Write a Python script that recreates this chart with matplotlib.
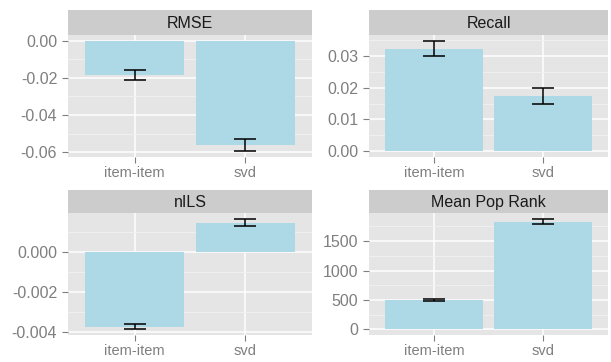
import numpy as np
import matplotlib
matplotlib.use("Agg")
import matplotlib.pyplot as plt

plt.rcParams['font.family'] = ['Liberation Sans', 'DejaVu Sans']

# --- data ---
algorithms = ['item-item', 'svd']
metrics = ['RMSE', 'Recall', 'nILS', 'Mean Pop Rank']

rmse_mean = [-0.0185, -0.0563]
rmse_lo = [-0.0214, -0.0595]
rmse_hi = [-0.0157, -0.0530]

recall_mean = [0.0322, 0.0174]
recall_lo = [0.0298, 0.0149]
recall_hi = [0.0347, 0.0197]

nils_mean = [-0.00375, 0.00147]
nils_lo = [-0.00388, 0.00128]
nils_hi = [-0.00362, 0.00167]

pop_mean = [498, 1828]
pop_lo = [482, 1784]
pop_hi = [518, 1884]

yticks = {
    'RMSE': [0.0, -0.02, -0.04, -0.06],
    'Recall': [0.0, 0.01, 0.02, 0.03],
    'nILS': [0.0, -0.002, -0.004],
    'Mean Pop Rank': [0, 500, 1000, 1500],
}
yfmt = {'RMSE': '{:.2f}', 'Recall': '{:.2f}', 'nILS': '{:.3f}', 'Mean Pop Rank': '{:.0f}'}

series = {
    'RMSE': (rmse_mean, rmse_lo, rmse_hi),
    'Recall': (recall_mean, recall_lo, recall_hi),
    'nILS': (nils_mean, nils_lo, nils_hi),
    'Mean Pop Rank': (pop_mean, pop_lo, pop_hi),
}

W, H = 611, 362
fig = plt.figure(figsize=(W / 100, H / 100), dpi=100)

# panel boxes in pixels: left, right, strip top, plot top, plot bottom
boxes = {
    'RMSE': (68, 312, 10, 35, 157),
    'Recall': (369, 608, 10, 35, 157),
    'nILS': (68, 312, 190, 213, 335),
    'Mean Pop Rank': (369, 608, 190, 213, 335),
}

x = np.arange(1, len(algorithms) + 1)

for m in metrics:
    l, r, st, pt, pb = boxes[m]
    ax = fig.add_axes([l / W, 1 - pb / H, (r - l) / W, (pb - pt) / H])
    sx = fig.add_axes([l / W, 1 - pt / H, (r - l) / W, (pt - st) / H])
    sx.set_facecolor('#CCCCCC')
    sx.set_xticks([]); sx.set_yticks([])
    for s in sx.spines.values():
        s.set_visible(False)
    sx.text(0.5, 0.45, m, ha='center', va='center', fontsize=11.5, color='#1A1A1A',
            transform=sx.transAxes)

    mean, lo, hi = series[m]
    mean = np.array(mean); lo = np.array(lo); hi = np.array(hi)

    ax.set_facecolor('#E5E5E5')
    ax.bar(x, mean, width=0.9, color='#ADD8E6', zorder=2)
    ax.errorbar(x, mean, yerr=[mean - lo, hi - mean], fmt='none', ecolor='black',
                elinewidth=1.1, capsize=7.9, capthick=1.1, zorder=3)

    # ggplot-style 5% expansion including the bar baseline
    ymin = min(0, lo.min()); ymax = max(0, hi.max())
    pad = (ymax - ymin) * 0.05
    ax.set_ylim(ymin - pad, ymax + pad)
    ax.set_xlim(0.4, 2.6)

    ticks = yticks[m]
    step = abs(ticks[1] - ticks[0])
    minors = np.arange(min(ticks) - step / 2, max(ticks) + step, step)
    ax.set_yticks(ticks)
    ax.set_yticklabels([yfmt[m].format(t) for t in ticks])
    ax.set_yticks([v for v in minors if ymin - pad < v < ymax + pad], minor=True)
    ax.set_xticks(x)
    ax.set_xticklabels(algorithms)

    ax.grid(True, which='major', color='white', linewidth=1.1, zorder=0)
    ax.grid(True, which='minor', axis='y', color='#F2F2F2', linewidth=0.6, zorder=0)
    ax.set_axisbelow(True)
    for s in ax.spines.values():
        s.set_visible(False)
    ax.tick_params(which='major', length=4.3, width=0.8, color='#7F7F7F',
                   labelcolor='#7F7F7F', pad=2.5)
    ax.tick_params(axis='y', labelsize=11.5, pad=3.5)
    ax.tick_params(axis='x', labelsize=10.5)
    ax.tick_params(which='minor', length=0)

fig.savefig('out.png', dpi=100)
